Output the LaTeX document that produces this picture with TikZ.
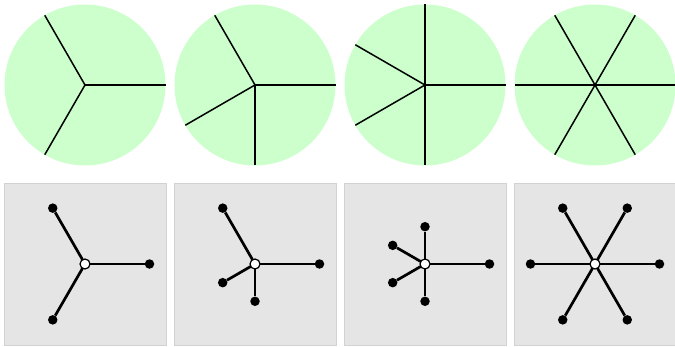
\documentclass[tikz,border=0pt]{standalone}
\definecolor{diskgreen}{HTML}{CCFFCC}
\definecolor{panelgray}{HTML}{E5E5E5}
\definecolor{panelborder}{HTML}{D2D2D2}
\begin{document}
\begin{tikzpicture}[x=1pt,y=1pt,
 disc/.style={circle, fill=diskgreen, minimum size=161pt, inner sep=0pt, outer sep=0pt},
 spoke/.style={line width=1.5pt, draw=black},
 panel/.style={rectangle, fill=panelgray, draw=panelborder, line width=0.8pt, minimum size=162pt, inner sep=0pt},
 leaf/.style={circle, fill=black, minimum size=9.5pt, inner sep=0pt},
 hub/.style={circle, fill=white, draw=black, line width=1.2pt, minimum size=10pt, inner sep=0pt},
 link/.style={line width=2.7pt, draw=black}]
\useasboundingbox (0,0) rectangle (675,346);
% top discs and bottom panels
\foreach \i/\x in {1/85,2/255,3/425,4/595} {
  \node[disc] (d\i) at (\x,261) {};
  \node[panel] (p\i) at (\x,82) {};
}
% spokes in the discs
\foreach \i/\a in {1/0,1/120,1/240,
                   2/0,2/120,2/210,2/270,
                   3/0,3/90,3/150,3/210,3/270,
                   4/0,4/60,4/120,4/180,4/240,4/300} {
  \draw[spoke] (d\i.center) -- (d\i.\a);
}
% hub positions
\foreach \i/\x in {1/85,2/255,3/425,4/595} {
  \coordinate (c\i) at (\x,82);
}
% leaves and links
\foreach \i/\a/\r in {1/0/64.5,1/120/64.5,1/240/64.5,
                      2/0/64.5,2/120/64.5,2/210/37.3,2/270/37.3,
                      3/0/64.5,3/90/37.3,3/150/37.3,3/210/37.3,3/270/37.3,
                      4/0/64.5,4/60/64.5,4/120/64.5,4/180/64.5,4/240/64.5,4/300/64.5} {
  \path (c\i) ++(\a:\r) node[leaf] (l\i-\a) {};
  \draw[link] (c\i) -- (l\i-\a);
}
% hubs on top
\foreach \i in {1,2,3,4} {
  \node[hub] (h\i) at (c\i) {};
}
\end{tikzpicture}
\end{document}
